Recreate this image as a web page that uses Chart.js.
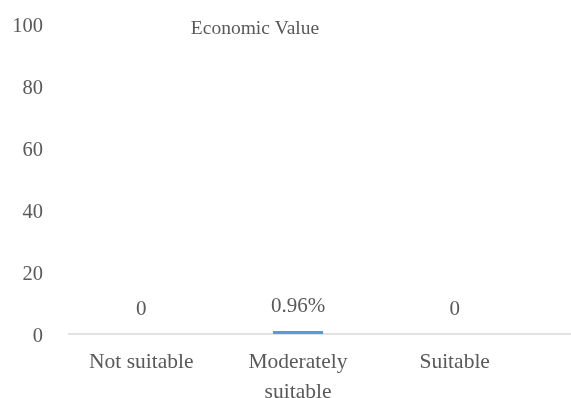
<!DOCTYPE html>
<html>
<head>
<meta charset="utf-8">
<title>Economic Value</title>
<script src="https://cdn.jsdelivr.net/npm/chart.js@4.4.1/dist/chart.umd.min.js"></script>
<style>
  html, body { margin: 0; padding: 0; background: #ffffff; }
  #wrap { width: 571px; height: 398px; position: relative; }
</style>
</head>
<body>
<div id="wrap"><canvas id="chart"></canvas></div>
<script>
const categories = ['Not suitable', ['Moderately', 'suitable'], 'Suitable'];
const values = [0, 0.96, 0];
const valueLabels = ['0', '0.96%', '0'];
const yTicks = [0, 20, 40, 60, 80, 100];

const TEXT = '#595959';
const SERIF = '"Liberation Serif", "Times New Roman", serif';

// title sits inside the plot area, so it is drawn by hand
const titlePlugin = {
    id: 'titleInside',
    afterDraw(chart) {
        const ctx = chart.ctx;
        ctx.save();
        ctx.font = '19.5px ' + SERIF;
        ctx.fillStyle = TEXT;
        ctx.textAlign = 'center';
        ctx.textBaseline = 'middle';
        ctx.fillText('Economic Value', 255, 29);
        ctx.restore();
    }
};

// category axis line runs on to the right edge
const baseLinePlugin = {
    id: 'baseLine',
    beforeDatasetsDraw(chart) {
        const ctx = chart.ctx;
        const y = chart.scales.y.getPixelForValue(0);
        ctx.save();
        ctx.strokeStyle = '#d9d9d9';
        ctx.lineWidth = 1.5;
        ctx.beginPath();
        ctx.moveTo(68, y);
        ctx.lineTo(chart.width, y);
        ctx.stroke();
        ctx.restore();
    }
};

const valueLabelPlugin = {
    id: 'valueLabels',
    afterDatasetsDraw(chart) {
        const ctx = chart.ctx;
        const meta = chart.getDatasetMeta(0);
        ctx.save();
        ctx.font = '21px ' + SERIF;
        ctx.fillStyle = TEXT;
        ctx.textAlign = 'center';
        ctx.textBaseline = 'middle';
        meta.data.forEach((bar, i) => {
            ctx.fillText(valueLabels[i], bar.x, bar.y - 25);
        });
        ctx.restore();
    }
};

new Chart(document.getElementById('chart'), {
    type: 'bar',
    data: {
        labels: categories,
        datasets: [{
            data: values,
            backgroundColor: '#5b9bd5',
            categoryPercentage: 1,
            barPercentage: 0.32
        }]
    },
    options: {
        responsive: true,
        maintainAspectRatio: false,
        animation: false,
        layout: { padding: { top: 24, right: 38, left: 0, bottom: 0 } },
        plugins: {
            legend: { display: false },
            title: { display: false },
            tooltip: { enabled: false }
        },
        scales: {
            x: {
                grid: { display: false },
                border: { display: false },
                ticks: {
                    color: TEXT,
                    font: { family: SERIF, size: 21.5, lineHeight: 1.4 },
                    padding: 5,
                    maxRotation: 0,
                    autoSkip: false
                },
                afterFit(scale) {
                    scale.height = 64;
                    scale.paddingLeft = 0;
                    scale.paddingRight = 0;
                }
            },
            y: {
                min: 0,
                max: 100,
                grid: { display: false },
                border: { display: false },
                afterBuildTicks(scale) { scale.ticks = yTicks.map(v => ({ value: v })); },
                ticks: {
                    color: TEXT,
                    font: { family: SERIF, size: 20.5 },
                    padding: 12,
                    labelOffset: 3
                },
                afterFit(scale) {
                    scale.width = 63;
                    scale.paddingTop = 0;
                    scale.paddingBottom = 0;
                }
            }
        }
    },
    plugins: [titlePlugin, baseLinePlugin, valueLabelPlugin]
});
</script>
</body>
</html>
